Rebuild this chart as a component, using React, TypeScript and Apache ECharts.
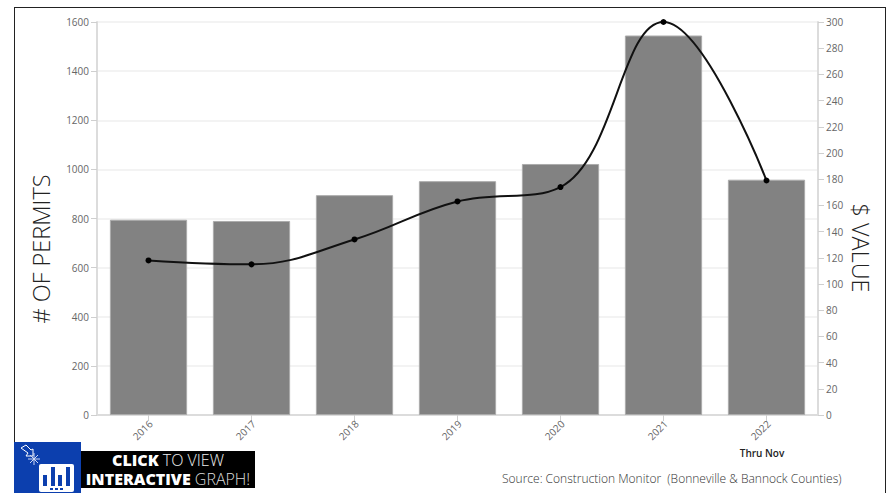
import React, { useEffect, useRef } from "react";
import * as echarts from "echarts";

const years = ["2016", "2017", "2018", "2019", "2020", "2021", "2022"];
const permits = [795, 790, 895, 952, 1022, 1545, 958];
const dollarValue = [118, 115, 134, 163, 174, 300, 179];

const FONT = "'Open Sans', sans-serif";
const BADGE_BLUE = "#0c3fae";

export default function App() {
  const ref = useRef<HTMLDivElement>(null);

  useEffect(() => {
    const chart = echarts.init(ref.current!, null, { renderer: "svg" });
    const plainNumber = (v: number) => String(v);
    const axisText = { color: "#666", fontSize: 10, fontFamily: FONT, formatter: plainNumber };
    const axisLine = { show: true, lineStyle: { color: "#dcdcdc", width: 2 } };
    const tick = { show: true, length: 6, lineStyle: { color: "#cfcfcf" } };
    const sparkle = [
      [28, 459, 40, 459],
      [34, 453, 34, 465],
      [30, 455, 38, 463],
      [38, 455, 30, 463],
    ];

    chart.setOption({
      animation: false,
      backgroundColor: "#fff",
      grid: { left: 97, right: 70, top: 22, bottom: 78 },
      xAxis: {
        type: "category",
        data: years,
        axisLine,
        axisTick: { ...tick, alignWithLabel: true, interval: 0 },
        axisLabel: { color: "#666", fontSize: 10, fontFamily: FONT, rotate: 45, margin: 9, interval: 0, padding: [0, -3, 0, 0] },
      },
      yAxis: [
        {
          type: "value",
          min: 0,
          max: 1600,
          interval: 200,
          axisLine,
          axisTick: tick,
          axisLabel: axisText,
          splitLine: { lineStyle: { color: "#efefef", width: 1.5 } },
        },
        {
          type: "value",
          min: 0,
          max: 300,
          interval: 20,
          axisLine,
          axisTick: tick,
          axisLabel: axisText,
          splitLine: { show: false },
        },
      ],
      series: [
        {
          type: "bar",
          yAxisIndex: 0,
          data: permits,
          barWidth: "75%",
          itemStyle: { color: "#828282", borderColor: "#ababab", borderWidth: 1 },
        },
        {
          type: "line",
          yAxisIndex: 1,
          data: dollarValue,
          smooth: 0.4,
          symbol: "circle",
          symbolSize: 6,
          clip: false,
          lineStyle: { color: "#111", width: 2 },
          itemStyle: { color: "#000" },
        },
      ],
      graphic: [
        // Outer frame
        { type: "line", silent: true, shape: { x1: 14, y1: 7.5, x2: 885, y2: 7.5 }, style: { stroke: "#222", lineWidth: 1 } },
        { type: "line", silent: true, shape: { x1: 14.5, y1: 7, x2: 14.5, y2: 443 }, style: { stroke: "#222", lineWidth: 1 } },
        { type: "line", silent: true, shape: { x1: 885.5, y1: 7, x2: 885.5, y2: 493 }, style: { stroke: "#222", lineWidth: 1 } },
        // Axis titles
        {
          type: "text",
          x: 41,
          y: 249,
          rotation: Math.PI / 2,
          style: { text: "# OF PERMITS", fill: "#222", font: `300 23.5px ${FONT}`, align: "center", verticalAlign: "middle" },
        },
        {
          type: "text",
          x: 861,
          y: 248,
          rotation: -Math.PI / 2,
          style: { text: "$ VALUE", fill: "#222", font: `300 23.5px ${FONT}`, align: "center", verticalAlign: "middle" },
        },
        // Footnotes
        { type: "text", x: 762, y: 448, style: { text: "Thru Nov", fill: "#222", font: `600 10px ${FONT}`, align: "center", verticalAlign: "top" } },
        { type: "text", x: 502, y: 472, style: { text: "Source: Construction Monitor  (Bonneville & Bannock Counties)", fill: "#333", font: `300 12px ${FONT}`, verticalAlign: "top" } },
        // Call-to-action badge
        { type: "rect", shape: { x: 14, y: 442, width: 67, height: 51 }, style: { fill: BADGE_BLUE } },
        { type: "rect", shape: { x: 81, y: 451, width: 174, height: 37 }, style: { fill: "#000" } },
        {
          type: "polygon",
          shape: { points: [[21, 448], [26, 445], [31, 450], [33, 449], [33, 456], [26, 456], [28, 453]] },
          style: { fill: "none", stroke: "#fff", lineWidth: 1 },
        },
        ...sparkle.map(([x1, y1, x2, y2]) => ({
          type: "line",
          shape: { x1, y1, x2, y2 },
          style: { stroke: "#cfd8f2", lineWidth: 1 },
        })),
        { type: "rect", shape: { x: 39, y: 464, width: 35, height: 28, r: 2 }, style: { fill: "#fff" } },
        { type: "rect", shape: { x: 43, y: 475, width: 4, height: 11 }, style: { fill: BADGE_BLUE } },
        { type: "rect", shape: { x: 51, y: 467, width: 4, height: 19 }, style: { fill: BADGE_BLUE } },
        { type: "rect", shape: { x: 58, y: 475, width: 4, height: 11 }, style: { fill: BADGE_BLUE } },
        { type: "rect", shape: { x: 66, y: 467, width: 4, height: 19 }, style: { fill: BADGE_BLUE } },
        { type: "rect", shape: { x: 50, y: 488, width: 3, height: 2 }, style: { fill: BADGE_BLUE } },
        { type: "rect", shape: { x: 55, y: 488, width: 3, height: 2 }, style: { fill: BADGE_BLUE } },
        { type: "rect", shape: { x: 60, y: 488, width: 3, height: 2 }, style: { fill: BADGE_BLUE } },
        {
          type: "text",
          x: 168,
          y: 459.5,
          style: {
            text: "{b|CLICK}{l| TO VIEW}",
            align: "center",
            verticalAlign: "middle",
            rich: {
              b: { fill: "#fff", font: `800 16px ${FONT}`, lineHeight: 14 },
              l: { fill: "#eee", font: `300 16px ${FONT}`, lineHeight: 14 },
            },
          },
        },
        {
          type: "text",
          x: 168,
          y: 479,
          style: {
            text: "{b|INTERACTIVE}{l| GRAPH!}",
            align: "center",
            verticalAlign: "middle",
            rich: {
              b: { fill: "#fff", font: `800 16px ${FONT}`, lineHeight: 14 },
              l: { fill: "#ddd", font: `300 16px ${FONT}`, lineHeight: 14 },
            },
          },
        },
      ],
    });

    return () => chart.dispose();
  }, []);

  return <div ref={ref} style={{ position: "fixed", left: 0, top: 0, width: 888, height: 493 }} />;
}
